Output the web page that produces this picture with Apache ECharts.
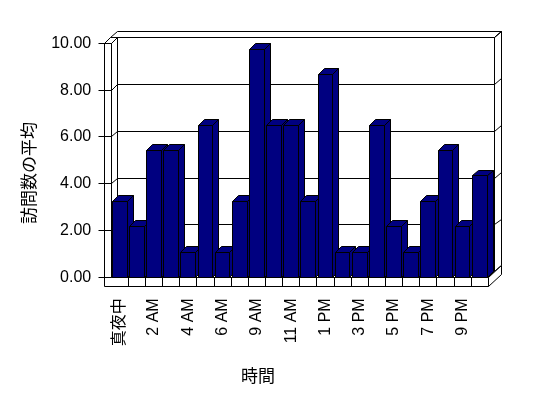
<!DOCTYPE html>
<html><head><meta charset="utf-8">
<script src="https://cdn.jsdelivr.net/npm/echarts@6/dist/echarts.min.js"></script>
<style>html,body{margin:0;padding:0;background:#fff}#c{width:548px;height:398px}</style>
</head><body><div id="c"></div>
<script>
// ---- data ----
const categories = ['真夜中','1 AM','2 AM','3 AM','4 AM','5 AM','6 AM','8 AM','9 AM','10 AM','11 AM','12 PM',
                    '1 PM','2 PM','3 PM','4 PM','5 PM','6 PM','7 PM','8 PM','9 PM','10 PM'];
const visits = [3.25, 2.17, 5.42, 5.42, 1.08, 6.5, 1.08, 3.25, 9.75, 6.5, 6.5, 3.25,
                8.67, 1.08, 1.08, 6.5, 2.17, 1.08, 3.25, 5.42, 2.17, 4.33];
const yTicks = [0, 2, 4, 6, 8, 10];
const yMin = 0, yMax = 10, yStep = 2;
const xTitle = '時間';
const yTitle = '訪問数の平均';

// ---- styling ----
const DX = 6.6, DY = -5.7;      // wall depth vector
const BDX = 6, BDY = -5.7;      // bar depth vector
const WALL = 7.2, FLOOR = 8.7, TICK = 6, INSET = 1.2;
const BLACK = '#000', NAVY = '#000080';
const LATIN = "'Liberation Sans', Arial, 'Noto Sans CJK JP', sans-serif";
const CJK = "'Noto Sans CJK JP', 'Liberation Sans', sans-serif";
const c = v => Math.round(v - 0.5) + 0.5;
const cp = pts => pts.map(p => [c(p[0]), c(p[1])]);

function frameItem(params, api) {
  const n = categories.length;
  const bw = api.size([1, 0])[0];
  const c0 = api.coord([0, yMin]);
  const xl = c0[0] - bw / 2;
  const xr = api.coord([n - 1, yMin])[0] + bw / 2;
  const y0 = c0[1];
  const yT = api.coord([0, yMax])[1];
  const xo = xl - WALL, yb = y0 + FLOOR;
  const ch = [];
  const poly = (pts, fill) => ch.push({type: 'polygon', shape: {points: cp(pts)},
    style: {fill: fill || '#fff', stroke: BLACK, lineWidth: 1}});
  const line = (x1, y1, x2, y2) => ch.push({type: 'line',
    shape: {x1: c(x1), y1: c(y1), x2: c(x2), y2: c(y2)}, style: {stroke: BLACK, lineWidth: 1}});
  // back wall inner face
  poly([[xl + DX, yT + DY], [xr + DX, yT + DY], [xr + DX, y0 + DY], [xl + DX, y0 + DY]]);
  // back wall top face
  poly([[xo + DX, yT + DY], [xr + DX, yT + DY], [xr + 2 * DX, yT + 2 * DY], [xo + 2 * DX, yT + 2 * DY]]);
  // back wall right face
  poly([[xr + DX, yT + DY], [xr + 2 * DX, yT + 2 * DY], [xr + 2 * DX, y0 + 2 * DY], [xr + DX, y0 + DY]]);
  // left wall inner face
  poly([[xl, yT], [xl + DX, yT + DY], [xl + DX, y0 + DY], [xl, y0]]);
  // left wall top face
  poly([[xo, yT], [xl, yT], [xl + DX, yT + DY], [xo + DX, yT + DY]]);
  // gridlines
  yTicks.forEach(v => {
    const y = api.coord([0, v])[1];
    line(xl, y, xl + DX, y + DY);
    line(xl + DX, y + DY, xr + DX, y + DY);
    line(xr + DX, y + DY, xr + 2 * DX, y + 2 * DY);
  });
  // floor top face
  poly([[xl, y0], [xr, y0], [xr + DX, y0 + DY], [xl + DX, y0 + DY]]);
  // floor right face
  poly([[xr, y0], [xr + 2 * DX, y0 + 2 * DY], [xr + 2 * DX, yb + 2 * DY], [xr, yb]]);
  line(xr + DX, y0 + DY, xr + DX, y0 + DY);
  // left wall + floor front face
  poly([[xo, yT], [xl, yT], [xl, y0], [xr, y0], [xr, yb], [xo, yb]]);
  // floor cell dividers
  for (let k = 1; k < n; k++) line(xl + k * bw, y0, xl + k * bw, yb);
  // ticks
  yTicks.forEach(v => {
    const y = api.coord([0, v])[1];
    line(xo - TICK, y, xl, y);
  });
  return {type: 'group', children: ch};
}

function barItem(params, api) {
  const x = api.value(0), v = api.value(1);
  const p = api.coord([x, v]), b = api.coord([x, yMin]);
  const bw = api.size([1, 0])[0];
  const l = p[0] - bw / 2 + INSET, r = p[0] + bw / 2 - INSET;
  const t = p[1], bot = b[1];
  const st = {fill: NAVY, stroke: BLACK, lineWidth: 1};
  return {type: 'group', children: [
    {type: 'polygon', shape: {points: cp([[r, t], [r + BDX, t + BDY], [r + BDX, bot + BDY], [r, bot]])}, style: st},
    {type: 'polygon', shape: {points: cp([[l, t], [r, t], [r + BDX, t + BDY], [l + BDX, t + BDY]])}, style: st},
    {type: 'polygon', shape: {points: cp([[l, t], [r, t], [r, bot], [l, bot]])}, style: st}
  ]};
}

const chart = echarts.init(document.getElementById('c'), null, {renderer: 'canvas'});
chart.setOption({
  backgroundColor: '#fff',
  animation: false,
  grid: {left: 111.2, right: 59.7, top: 43.3, bottom: 120.7, containLabel: false},
  xAxis: {
    type: 'category', data: categories, boundaryGap: true,
    axisLine: {show: false}, axisTick: {show: false},
    axisLabel: {interval: 1, rotate: 90, margin: 21, color: BLACK, fontSize: 16, fontFamily: LATIN}
  },
  yAxis: {
    type: 'value', min: yMin, max: yMax, interval: yStep,
    axisLine: {show: false}, axisTick: {show: false}, splitLine: {show: false},
    axisLabel: {margin: 20, color: BLACK, fontSize: 16, fontFamily: LATIN,
      formatter: v => v.toFixed(2)}
  },
  series: [
    {type: 'custom', coordinateSystem: 'cartesian2d', z: 1, silent: true, clip: false,
     renderItem: frameItem, data: [[0, 0]], encode: {x: 0, y: 1}},
    {type: 'custom', coordinateSystem: 'cartesian2d', z: 2, clip: false,
     renderItem: barItem, data: visits.map((v, i) => [i, v]), encode: {x: 0, y: 1}}
  ],
  graphic: [
    {type: 'text', x: 258, y: 376, style: {text: xTitle, align: 'center', verticalAlign: 'middle',
      textAlign: 'center', textVerticalAlign: 'middle', fill: BLACK, fontSize: 17, fontFamily: CJK}},
    {type: 'text', x: 29, y: 173, rotation: Math.PI / 2, style: {text: yTitle, align: 'center',
      verticalAlign: 'middle', textAlign: 'center', textVerticalAlign: 'middle', fill: BLACK,
      fontSize: 17, fontFamily: CJK}}
  ]
});
</script></body></html>
